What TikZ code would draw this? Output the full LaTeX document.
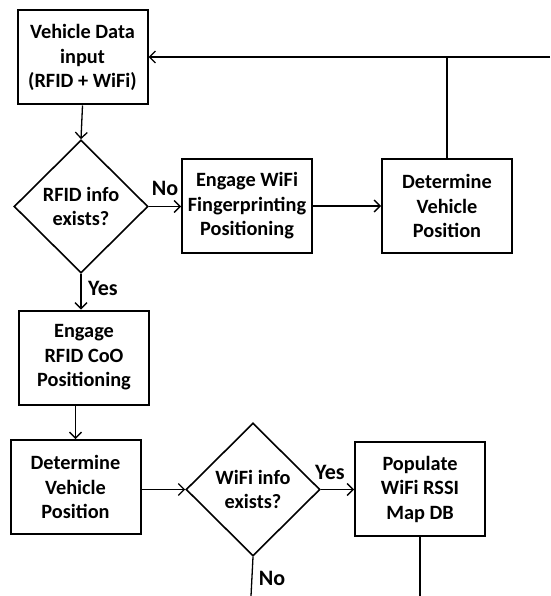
\documentclass[tikz,border=0pt]{standalone}
\usepackage{fontspec}
\setmainfont{Carlito}
\usetikzlibrary{shapes.geometric,arrows.meta}
\begin{document}
\begin{tikzpicture}[x=1pt,y=-1pt,
  txt/.style={font=\bfseries\fontsize{20.3}{24.5}\selectfont,align=center},
  box/.style={draw,line width=2pt,inner sep=0pt,minimum width=130pt,minimum height=94pt,txt},
  dia/.style={draw,diamond,line width=1.6pt,inner sep=0pt,minimum width=134pt,minimum height=133pt,txt},
  arr/.style={line width=1.3pt,-{Straight Barb[length=6pt,width=12pt,line width=1.3pt]}},
  ln/.style={line width=1.3pt},
  lab/.style={font=\bfseries\fontsize{22}{25}\selectfont}]
\useasboundingbox (0,0) rectangle (550,596);
\node[box] (b1) at (82.5,57.5) {Vehicle Data\\input\\(RFID + WiFi)};
\node[dia] (d1) at (81,206.5) {RFID info\\exists?};
\node[box] (b2) at (247,206) {Engage WiFi\\Fingerprinting\\Positioning};
\node[box] (b3) at (447,206) {Determine\\Vehicle\\Position};
\node[box] (b4) at (84,357.5) {Engage\\RFID CoO\\Positioning};
\node[box] (b5) at (75.5,487) {Determine\\Vehicle\\Position};
\node[dia] (d2) at (253,489.5) {WiFi info\\exists?};
\node[box] (b6) at (420,489) {Populate\\WiFi RSSI\\Map DB};
\coordinate (r) at (550,57);
\coordinate (e1) at (251,596);
\coordinate (e2) at (420,596);
\draw[arr] (b1.south) -- (d1.north);
\draw[arr] (d1.east) -- (b2.west |- d1.east);
\draw[arr] (b2.east) -- (b3.west);
\draw[ln] (b3.north) -- (b3.north |- r);
\draw[arr] (r) -- (b1.east |- r);
\draw[arr] (d1.south) -- (d1.south |- b4.north);
\draw[arr] (b5.north |- b4.south) -- (b5.north);
\draw[arr] (b5.east |- d2.west) -- (d2.west);
\draw[arr] (d2.east) -- (b6.west |- d2.east);
\draw[ln] (d2.south) -- (e1);
\draw[ln] (b6.south) -- (e2);
\node[lab] (n1) at (165,188) {No};
\node[lab] (y1) at (103,288) {Yes};
\node[lab] (y2) at (330,472) {Yes};
\node[lab] (n2) at (272,578) {No};
\end{tikzpicture}
\end{document}
